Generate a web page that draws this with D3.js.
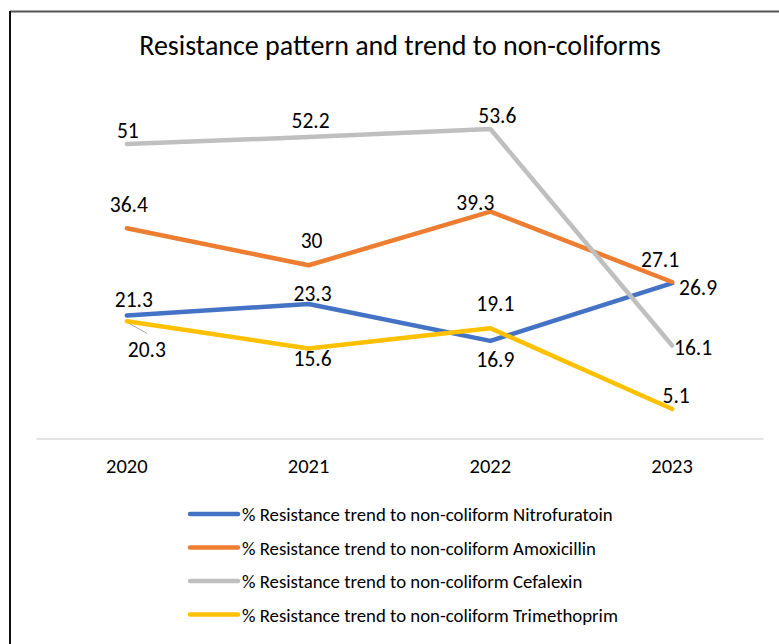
<!DOCTYPE html>
<html>
<head>
<meta charset="utf-8">
<script src="https://cdn.jsdelivr.net/npm/d3@7"></script>
<style>
  html, body { margin: 0; padding: 0; background: #fff; }
  svg { display: block; }
  text { font-family: Carlito, Lato, "Open Sans", sans-serif; fill: #000; }
</style>
</head>
<body>
<svg id="chart" width="779" height="644"></svg>
<script>
// ---- data ----
const categories = ["2020", "2021", "2022", "2023"];
const seriesNames = [
  "% Resistance trend to non-coliform Nitrofuratoin",
  "% Resistance trend to non-coliform Amoxicillin",
  "% Resistance trend to non-coliform Cefalexin",
  "% Resistance trend to non-coliform Trimethoprim"
];
const nitrofuratoin = [21.3, 23.3, 16.9, 26.9];
const amoxicillin   = [36.4, 30, 39.3, 27.1];
const cefalexin     = [51, 52.2, 53.6, 16.1];
const trimethoprim  = [20.3, 15.6, 19.1, 5.1];
const title = "Resistance pattern and trend to non-coliforms";

// ---- styling / layout ----
const colors = ["#4472C4", "#ED7D31", "#BFBFBF", "#FFC000"];
// data label offsets (dx, dy of label baseline-centre relative to point)
const labelOffsets = [
  [[7, -8], [4, -3], [5, 26], [26, 12]],
  [[2, -16], [3, -17], [-15, -2], [-12, -15]],
  [[1, -6], [2, -9], [7, -6], [21, 9]],
  [[20, 36], [4, 18], [5, -17], [4, -6]]
];

const values = [nitrofuratoin, amoxicillin, cefalexin, trimethoprim];
const svg = d3.select("#chart");

// chart border (top and left edges visible)
svg.append("line").attr("x1", 10).attr("y1", 11.5).attr("x2", 779).attr("y2", 11.5)
  .attr("stroke", "#555").attr("stroke-width", 2);
svg.append("line").attr("x1", 10).attr("y1", 11).attr("x2", 10).attr("y2", 644)
  .attr("stroke", "#111").attr("stroke-width", 2);

// title
svg.append("text").attr("x", 400).attr("y", 55).attr("text-anchor", "middle")
  .style("font-size", "28px").text(title);

const x = d3.scaleBand().domain(categories).range([36, 763]);
const y = d3.scaleLinear().domain([0, 60]).range([438.5, 92]);
const cx = c => x(c) + x.bandwidth() / 2;

// axis
const xAxis = svg.append("g").attr("transform", `translate(0,${y(0)})`)
  .call(d3.axisBottom(x).tickSize(0).tickPadding(20));
xAxis.select(".domain").attr("stroke", "#D9D9D9").attr("stroke-width", 1.3);
xAxis.selectAll("text").style("font-size", "20.5px")
  .style("font-family", "Carlito, Lato, 'Open Sans', sans-serif").attr("fill", "#000");

// leader line for 2020 Trimethoprim label
svg.append("line")
  .attr("x1", cx(categories[0])).attr("y1", y(trimethoprim[0]) + 1)
  .attr("x2", cx(categories[0]) + 20).attr("y2", y(trimethoprim[0]) + 12)
  .attr("stroke", "#A6A6A6").attr("stroke-width", 1);

const line = d3.line().x((d, i) => cx(categories[i])).y(d => y(d));

values.forEach((vals, s) => {
  svg.append("path").datum(vals).attr("d", line)
    .attr("fill", "none").attr("stroke", colors[s]).attr("stroke-width", 4.5)
    .attr("stroke-linejoin", "round").attr("stroke-linecap", "round");
});

values.forEach((vals, s) => {
  svg.append("g").selectAll("text").data(vals).join("text")
    .attr("x", (d, i) => cx(categories[i]) + labelOffsets[s][i][0])
    .attr("y", (d, i) => y(d) + labelOffsets[s][i][1])
    .attr("text-anchor", "middle").style("font-size", "21.5px")
    .text(d => d);
});

// legend
const legend = svg.append("g");
seriesNames.forEach((name, s) => {
  const ly = 514 + s * 33.5;
  legend.append("line").attr("x1", 190).attr("x2", 238).attr("y1", ly).attr("y2", ly)
    .attr("stroke", colors[s]).attr("stroke-width", 4.5).attr("stroke-linecap", "round");
  legend.append("text").attr("x", 242).attr("y", ly + 7).style("font-size", "18.8px").text(name);
});
</script>
</body>
</html>
